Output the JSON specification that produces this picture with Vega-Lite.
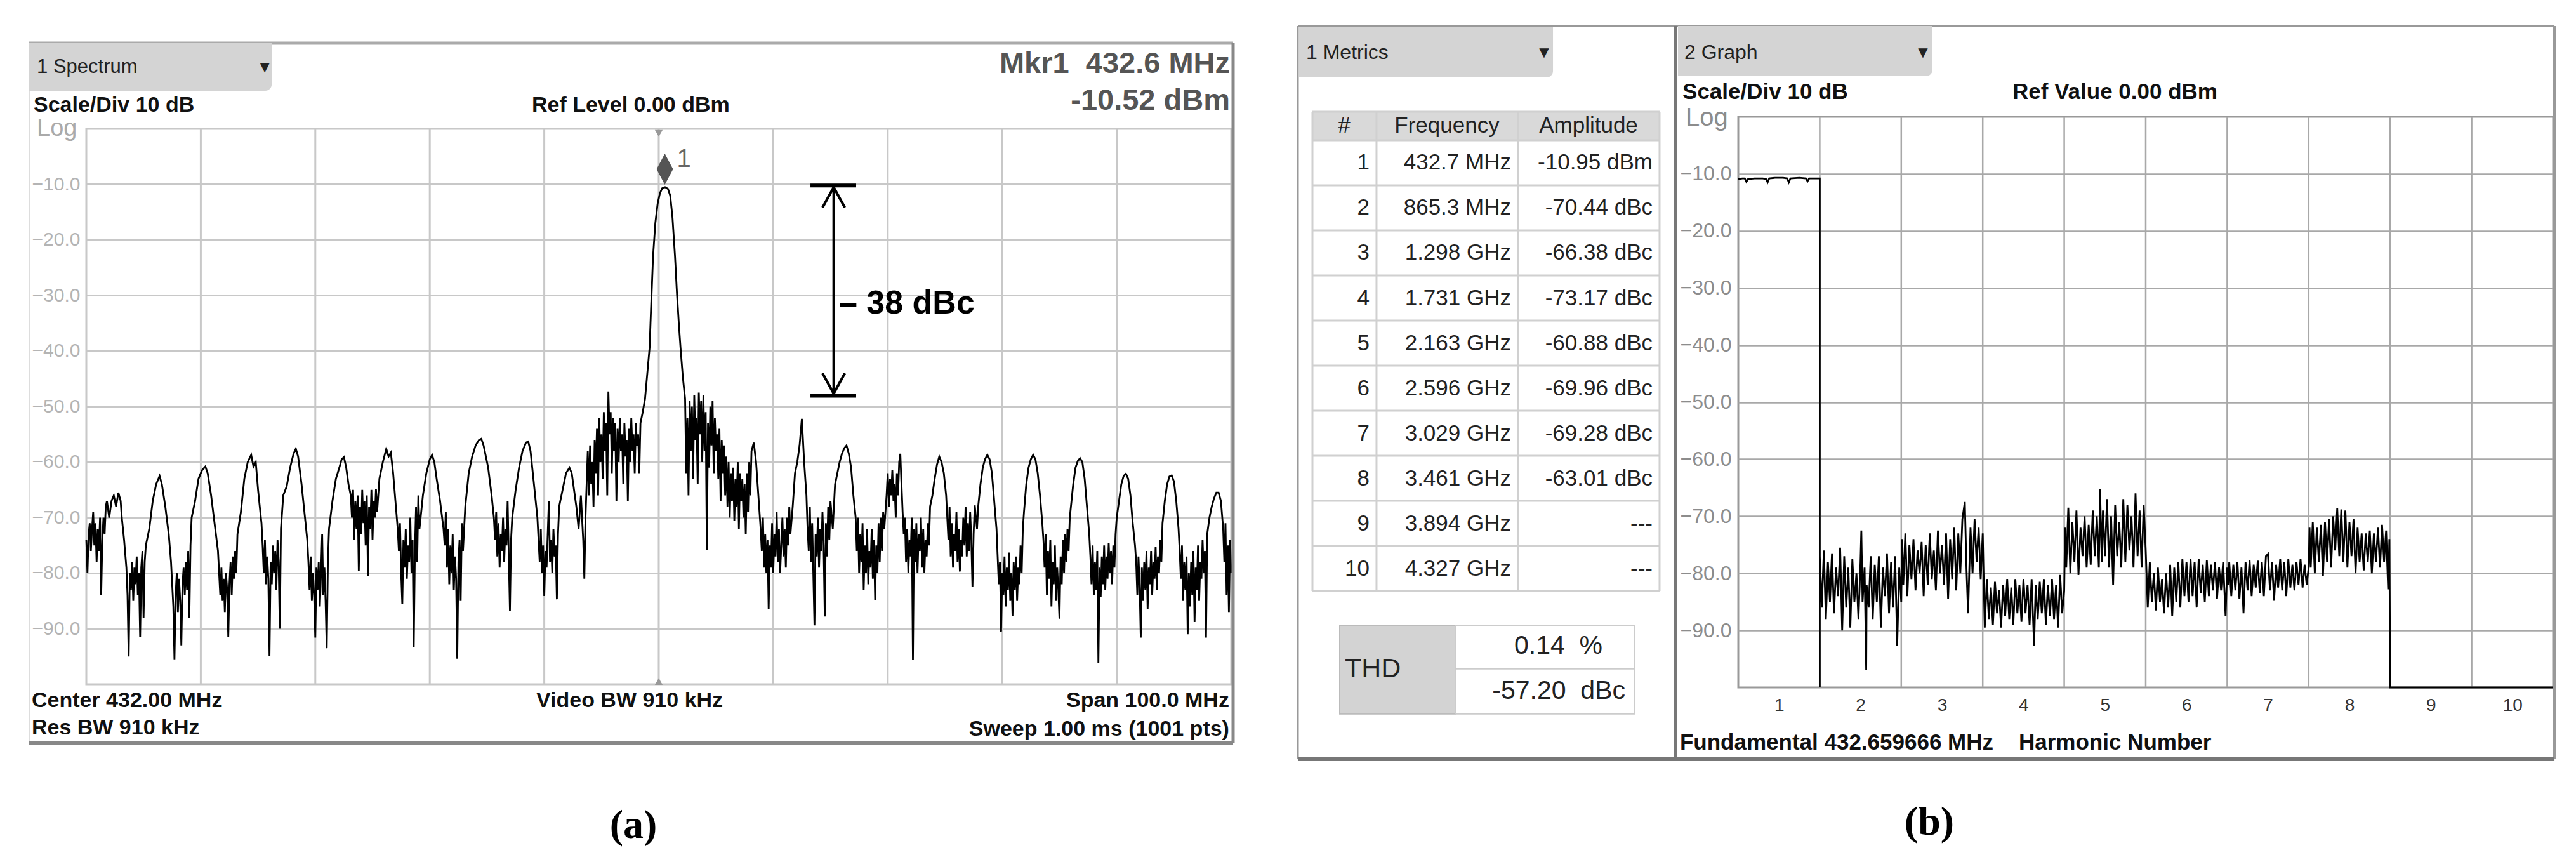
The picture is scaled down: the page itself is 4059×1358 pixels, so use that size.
{
"$schema":"https://vega.github.io/schema/vega-lite/v6.json",
"background":"white",
"padding":{"left":42,"top":36,"right":20,"bottom":20},
"spacing":107,
"bounds":"flush",
"config":{"font":"Liberation Sans","view":{"stroke":null},"axis":{"title":null},"text":{"color":"#111"}},
"data":{"values":[{}]},
"datasets":{
"gridA":[{"g":392},{"g":402},{"g":412},{"g":422},{"g":432},{"g":442},{"g":452},{"g":462},{"g":472}],
"gridG":[{"g":1.5},{"g":2.5},{"g":3.5},{"g":4.5},{"g":5.5},{"g":6.5},{"g":7.5},{"g":8.5},{"g":9.5}],
"metrics":[
{"n":1,"freq":"432.7 MHz","amp":"-10.95 dBm"},
{"n":2,"freq":"865.3 MHz","amp":"-70.44 dBc"},
{"n":3,"freq":"1.298 GHz","amp":"-66.38 dBc"},
{"n":4,"freq":"1.731 GHz","amp":"-73.17 dBc"},
{"n":5,"freq":"2.163 GHz","amp":"-60.88 dBc"},
{"n":6,"freq":"2.596 GHz","amp":"-69.96 dBc"},
{"n":7,"freq":"3.029 GHz","amp":"-69.28 dBc"},
{"n":8,"freq":"3.461 GHz","amp":"-63.01 dBc"},
{"n":9,"freq":"3.894 GHz","amp":"---"},
{"n":10,"freq":"4.327 GHz","amp":"---"}],
"spec":[
{"f":382.0,"a":-74},{"f":382.1,"a":-80},{"f":382.2,"a":-73},{"f":382.3,"a":-71},{"f":382.4,"a":-76},{"f":382.5,"a":-72},{"f":382.6,"a":-69},{"f":382.7,"a":-75},{"f":382.8,"a":-71},{"f":382.9,"a":-78},
{"f":383.0,"a":-72},{"f":383.1,"a":-76},{"f":383.2,"a":-70},{"f":383.3,"a":-84},{"f":383.4,"a":-74},{"f":383.5,"a":-70},{"f":383.6,"a":-73},{"f":383.7,"a":-68},{"f":383.8,"a":-67},{"f":384.0,"a":-70},
{"f":384.2,"a":-67},{"f":384.4,"a":-66},{"f":384.6,"a":-68},{"f":384.8,"a":-65.5},{"f":385.0,"a":-67},{"f":385.1,"a":-70},{"f":385.3,"a":-74},{"f":385.5,"a":-79},{"f":385.6,"a":-84},{"f":385.7,"a":-95},
{"f":385.8,"a":-80},{"f":385.9,"a":-83},{"f":386.0,"a":-78},{"f":386.1,"a":-85},{"f":386.2,"a":-79},{"f":386.3,"a":-82},{"f":386.4,"a":-77},{"f":386.5,"a":-84},{"f":386.6,"a":-80},{"f":386.7,"a":-91.5},
{"f":386.8,"a":-79},{"f":386.9,"a":-76},{"f":387.0,"a":-88},{"f":387.1,"a":-78},{"f":387.2,"a":-75},{"f":387.5,"a":-72},{"f":387.8,"a":-67},{"f":388.1,"a":-64},{"f":388.4,"a":-62.5},{"f":388.6,"a":-64},
{"f":388.9,"a":-68},{"f":389.2,"a":-73},{"f":389.4,"a":-78},{"f":389.5,"a":-82},{"f":389.6,"a":-86},{"f":389.7,"a":-95.5},{"f":389.8,"a":-84},{"f":389.9,"a":-80},{"f":390.0,"a":-87},{"f":390.1,"a":-81},
{"f":390.2,"a":-85},{"f":390.3,"a":-93},{"f":390.4,"a":-82},{"f":390.5,"a":-79},{"f":390.6,"a":-84},{"f":390.7,"a":-78},{"f":390.8,"a":-83},{"f":390.9,"a":-76},{"f":391.0,"a":-88},{"f":391.1,"a":-75},
{"f":391.2,"a":-70},{"f":391.5,"a":-67},{"f":391.8,"a":-63},{"f":392.1,"a":-61.5},{"f":392.4,"a":-60.8},{"f":392.6,"a":-62},{"f":392.9,"a":-66},{"f":393.2,"a":-71},{"f":393.5,"a":-76},{"f":393.6,"a":-80},
{"f":393.7,"a":-84},{"f":393.8,"a":-79},{"f":393.9,"a":-85},{"f":394.0,"a":-81},{"f":394.1,"a":-87},{"f":394.2,"a":-80},{"f":394.3,"a":-83},{"f":394.4,"a":-91.5},{"f":394.5,"a":-82},{"f":394.6,"a":-78},
{"f":394.7,"a":-84},{"f":394.8,"a":-77},{"f":394.9,"a":-81},{"f":395.0,"a":-76},{"f":395.1,"a":-80},{"f":395.2,"a":-73},{"f":395.5,"a":-69},{"f":395.8,"a":-63},{"f":396.1,"a":-60},{"f":396.4,"a":-58.7},
{"f":396.6,"a":-60.8},{"f":396.8,"a":-60},{"f":397.0,"a":-65},{"f":397.3,"a":-71},{"f":397.4,"a":-75},{"f":397.5,"a":-80},{"f":397.6,"a":-74},{"f":397.7,"a":-82},{"f":397.8,"a":-77},{"f":397.9,"a":-81},
{"f":398.0,"a":-94.9},{"f":398.1,"a":-78},{"f":398.2,"a":-82},{"f":398.3,"a":-75},{"f":398.4,"a":-80},{"f":398.5,"a":-76},{"f":398.6,"a":-83},{"f":398.7,"a":-74},{"f":398.8,"a":-78},{"f":398.9,"a":-90},
{"f":399.0,"a":-72},{"f":399.2,"a":-66},{"f":399.5,"a":-64.4},{"f":399.8,"a":-61},{"f":400.1,"a":-58.5},{"f":400.3,"a":-57.6},{"f":400.5,"a":-59},{"f":400.8,"a":-64},{"f":401.1,"a":-70},{"f":401.3,"a":-74},
{"f":401.4,"a":-78},{"f":401.5,"a":-83},{"f":401.6,"a":-77},{"f":401.7,"a":-85},{"f":401.8,"a":-80},{"f":401.9,"a":-84},{"f":402.0,"a":-91.6},{"f":402.1,"a":-79},{"f":402.2,"a":-83},{"f":402.3,"a":-78},
{"f":402.4,"a":-86},{"f":402.5,"a":-80},{"f":402.6,"a":-73},{"f":402.7,"a":-84},{"f":402.8,"a":-79},{"f":402.9,"a":-85},{"f":403.0,"a":-93.5},{"f":403.1,"a":-78},{"f":403.2,"a":-72},{"f":403.5,"a":-67},
{"f":403.8,"a":-63},{"f":404.1,"a":-61},{"f":404.3,"a":-59.5},{"f":404.5,"a":-59.1},{"f":404.7,"a":-61},{"f":404.9,"a":-64},{"f":405.1,"a":-66},{"f":405.2,"a":-70},{"f":405.3,"a":-65},{"f":405.4,"a":-74},
{"f":405.5,"a":-67},{"f":405.6,"a":-72},{"f":405.7,"a":-66},{"f":405.8,"a":-79.6},{"f":405.9,"a":-68},{"f":406.0,"a":-73},{"f":406.1,"a":-65},{"f":406.2,"a":-71},{"f":406.3,"a":-67},{"f":406.4,"a":-75},
{"f":406.5,"a":-66},{"f":406.6,"a":-80.5},{"f":406.7,"a":-68},{"f":406.8,"a":-72},{"f":406.9,"a":-65},{"f":407.0,"a":-74},{"f":407.1,"a":-67},{"f":407.2,"a":-70},{"f":407.3,"a":-64.9},{"f":407.4,"a":-69},
{"f":407.6,"a":-63},{"f":407.9,"a":-60},{"f":408.2,"a":-57.6},{"f":408.4,"a":-59},{"f":408.6,"a":-58.3},{"f":408.8,"a":-62},{"f":409.0,"a":-67},{"f":409.2,"a":-72},{"f":409.3,"a":-76},{"f":409.4,"a":-71},
{"f":409.5,"a":-80},{"f":409.6,"a":-85.6},{"f":409.7,"a":-74},{"f":409.8,"a":-79},{"f":409.9,"a":-72},{"f":410.0,"a":-81},{"f":410.1,"a":-75},{"f":410.2,"a":-78},{"f":410.3,"a":-70},{"f":410.4,"a":-80},
{"f":410.5,"a":-74},{"f":410.6,"a":-93.3},{"f":410.7,"a":-76},{"f":410.8,"a":-68},{"f":410.9,"a":-78},{"f":411.0,"a":-66},{"f":411.1,"a":-72},{"f":411.4,"a":-66},{"f":411.7,"a":-62},{"f":412.0,"a":-59.5},
{"f":412.2,"a":-58.7},{"f":412.4,"a":-60},{"f":412.6,"a":-63},{"f":412.9,"a":-67},{"f":413.2,"a":-72},{"f":413.3,"a":-75},{"f":413.4,"a":-69},{"f":413.5,"a":-79},{"f":413.6,"a":-72},{"f":413.7,"a":-82},
{"f":413.8,"a":-75},{"f":413.9,"a":-80},{"f":414.0,"a":-73},{"f":414.1,"a":-83},{"f":414.2,"a":-77},{"f":414.3,"a":-81},{"f":414.4,"a":-95.4},{"f":414.5,"a":-78},{"f":414.6,"a":-74},{"f":414.7,"a":-85},
{"f":414.8,"a":-71},{"f":414.9,"a":-76},{"f":415.1,"a":-68},{"f":415.4,"a":-62},{"f":415.7,"a":-59},{"f":416.0,"a":-57},{"f":416.3,"a":-56},{"f":416.5,"a":-55.8},{"f":416.7,"a":-57},{"f":416.9,"a":-59},
{"f":417.1,"a":-61},{"f":417.4,"a":-66},{"f":417.6,"a":-70},{"f":417.7,"a":-74},{"f":417.8,"a":-69},{"f":417.9,"a":-77},{"f":418.0,"a":-71},{"f":418.1,"a":-79},{"f":418.2,"a":-73},{"f":418.3,"a":-76},
{"f":418.4,"a":-70},{"f":418.5,"a":-78},{"f":418.6,"a":-72},{"f":418.7,"a":-75},{"f":418.8,"a":-67},{"f":418.9,"a":-77},{"f":419.0,"a":-86.8},{"f":419.1,"a":-74},{"f":419.2,"a":-70},{"f":419.5,"a":-65},
{"f":419.8,"a":-61},{"f":420.1,"a":-58},{"f":420.4,"a":-56.5},{"f":420.6,"a":-56.3},{"f":420.8,"a":-58},{"f":421.0,"a":-62},{"f":421.2,"a":-66},{"f":421.4,"a":-70},{"f":421.5,"a":-74},{"f":421.6,"a":-78},
{"f":421.7,"a":-72},{"f":421.8,"a":-80},{"f":421.9,"a":-75},{"f":422.0,"a":-84.1},{"f":422.1,"a":-76},{"f":422.2,"a":-79},{"f":422.3,"a":-73},{"f":422.4,"a":-67},{"f":422.5,"a":-78},{"f":422.6,"a":-74},
{"f":422.7,"a":-80},{"f":422.8,"a":-72},{"f":422.9,"a":-77},{"f":423.0,"a":-75},{"f":423.1,"a":-84.7},{"f":423.2,"a":-73},{"f":423.3,"a":-68},{"f":423.6,"a":-65},{"f":423.9,"a":-62},{"f":424.2,"a":-61},
{"f":424.4,"a":-62},{"f":424.6,"a":-65},{"f":424.8,"a":-68},{"f":425.0,"a":-72},{"f":425.2,"a":-66},{"f":425.4,"a":-74},{"f":425.5,"a":-81},{"f":425.6,"a":-70},{"f":425.7,"a":-64},{"f":425.8,"a":-58},
{"f":425.9,"a":-66},{"f":426.0,"a":-57},{"f":426.1,"a":-64},{"f":426.2,"a":-60},{"f":426.3,"a":-68},{"f":426.4,"a":-56},{"f":426.5,"a":-62},{"f":426.6,"a":-54},{"f":426.7,"a":-66},{"f":426.8,"a":-52},
{"f":426.9,"a":-60},{"f":427.0,"a":-55},{"f":427.1,"a":-63},{"f":427.2,"a":-51},{"f":427.3,"a":-58},{"f":427.4,"a":-53},{"f":427.5,"a":-66},{"f":427.6,"a":-47.3},{"f":427.7,"a":-55},{"f":427.8,"a":-51},
{"f":427.9,"a":-62},{"f":428.0,"a":-52},{"f":428.1,"a":-58},{"f":428.2,"a":-53},{"f":428.3,"a":-67},{"f":428.4,"a":-54},{"f":428.5,"a":-60},{"f":428.6,"a":-52},{"f":428.7,"a":-58},{"f":428.8,"a":-55},
{"f":428.9,"a":-64},{"f":429.0,"a":-53},{"f":429.1,"a":-59},{"f":429.2,"a":-56},{"f":429.3,"a":-67},{"f":429.4,"a":-54},{"f":429.5,"a":-60},{"f":429.6,"a":-52},{"f":429.7,"a":-58},{"f":429.8,"a":-55},
{"f":429.9,"a":-62},{"f":430.0,"a":-53},{"f":430.1,"a":-57},{"f":430.2,"a":-55},{"f":430.3,"a":-62},{"f":430.4,"a":-53},{"f":430.6,"a":-51},
{"f":430.8,"a":-48.6},{"f":431.0,"a":-44},{"f":431.2,"a":-39.4},{"f":431.35,"a":-31},{"f":431.5,"a":-23},{"f":431.7,"a":-17},{"f":431.9,"a":-13.5},{"f":432.1,"a":-11.6},{"f":432.3,"a":-10.7},{"f":432.55,"a":-10.5},
{"f":432.8,"a":-10.8},{"f":433.0,"a":-12},{"f":433.2,"a":-16},{"f":433.42,"a":-23},{"f":433.6,"a":-30},{"f":433.75,"a":-35},{"f":433.9,"a":-39.4},{"f":434.1,"a":-44.6},{"f":434.3,"a":-48.6},
{"f":434.4,"a":-62},{"f":434.5,"a":-52},{"f":434.6,"a":-66},{"f":434.7,"a":-49},{"f":434.8,"a":-58},{"f":434.9,"a":-50},{"f":435.0,"a":-63},{"f":435.1,"a":-48},{"f":435.2,"a":-56},{"f":435.3,"a":-52},
{"f":435.4,"a":-64},{"f":435.5,"a":-47.5},{"f":435.6,"a":-55},{"f":435.7,"a":-49},{"f":435.8,"a":-60},{"f":435.9,"a":-48},{"f":436.0,"a":-58},{"f":436.1,"a":-51},{"f":436.2,"a":-75.8},{"f":436.3,"a":-53},
{"f":436.4,"a":-61},{"f":436.5,"a":-50},{"f":436.6,"a":-57},{"f":436.7,"a":-49},{"f":436.8,"a":-62},{"f":436.9,"a":-52},{"f":437.0,"a":-58},{"f":437.1,"a":-55},{"f":437.2,"a":-63},{"f":437.3,"a":-54},
{"f":437.4,"a":-67},{"f":437.5,"a":-56},{"f":437.6,"a":-62},{"f":437.7,"a":-57},{"f":437.8,"a":-66},{"f":437.9,"a":-59},{"f":438.0,"a":-68},{"f":438.1,"a":-60},{"f":438.2,"a":-70},{"f":438.3,"a":-62},
{"f":438.4,"a":-67},{"f":438.5,"a":-61},{"f":438.6,"a":-70.6},{"f":438.7,"a":-63},{"f":438.8,"a":-68},{"f":438.9,"a":-60},{"f":439.0,"a":-72},{"f":439.1,"a":-62},{"f":439.2,"a":-67},{"f":439.3,"a":-63},
{"f":439.4,"a":-70},{"f":439.5,"a":-64},{"f":439.6,"a":-73},{"f":439.7,"a":-62},{"f":439.8,"a":-69},{"f":439.9,"a":-60},{"f":440.0,"a":-66},{"f":440.1,"a":-58},{"f":440.3,"a":-56.5},{"f":440.5,"a":-60},
{"f":440.7,"a":-66},{"f":440.9,"a":-72},{"f":441.0,"a":-76},{"f":441.1,"a":-70},{"f":441.2,"a":-79},{"f":441.3,"a":-73},{"f":441.4,"a":-80},{"f":441.5,"a":-74},{"f":441.6,"a":-86.5},{"f":441.7,"a":-75},
{"f":441.8,"a":-79},{"f":441.9,"a":-71},{"f":442.0,"a":-80},{"f":442.1,"a":-73},{"f":442.2,"a":-77},{"f":442.3,"a":-69},{"f":442.4,"a":-78},{"f":442.5,"a":-72},{"f":442.6,"a":-80},{"f":442.7,"a":-75},
{"f":442.8,"a":-70},{"f":442.9,"a":-77},{"f":443.0,"a":-72},{"f":443.1,"a":-79},{"f":443.2,"a":-70},{"f":443.3,"a":-75},{"f":443.4,"a":-68},{"f":443.5,"a":-73},{"f":443.7,"a":-68},{"f":443.9,"a":-62},
{"f":444.1,"a":-60},{"f":444.3,"a":-57},{"f":444.5,"a":-52.2},{"f":444.7,"a":-60},{"f":444.9,"a":-66},{"f":445.0,"a":-72},{"f":445.1,"a":-76},{"f":445.2,"a":-68},{"f":445.3,"a":-78},{"f":445.4,"a":-71},
{"f":445.5,"a":-80},{"f":445.6,"a":-89.4},{"f":445.7,"a":-73},{"f":445.8,"a":-77},{"f":445.9,"a":-70},{"f":446.0,"a":-79},{"f":446.1,"a":-72},{"f":446.2,"a":-76},{"f":446.3,"a":-69},{"f":446.4,"a":-75},
{"f":446.5,"a":-87.8},{"f":446.6,"a":-71},{"f":446.7,"a":-77},{"f":446.8,"a":-68},{"f":446.9,"a":-74},{"f":447.0,"a":-67},{"f":447.2,"a":-72},{"f":447.4,"a":-64},{"f":447.6,"a":-62},{"f":447.8,"a":-60},
{"f":448.0,"a":-58.5},{"f":448.2,"a":-57.5},{"f":448.4,"a":-57},{"f":448.6,"a":-58.5},{"f":448.8,"a":-61},{"f":449.0,"a":-66},{"f":449.2,"a":-70},{"f":449.3,"a":-76},{"f":449.4,"a":-70},{"f":449.5,"a":-80},
{"f":449.6,"a":-73},{"f":449.7,"a":-78},{"f":449.8,"a":-71},{"f":449.9,"a":-83},{"f":450.0,"a":-75},{"f":450.1,"a":-80},{"f":450.2,"a":-72},{"f":450.3,"a":-82},{"f":450.4,"a":-76},{"f":450.5,"a":-79},
{"f":450.6,"a":-72},{"f":450.7,"a":-81},{"f":450.8,"a":-74},{"f":450.9,"a":-84.8},{"f":451.0,"a":-75},{"f":451.1,"a":-80},{"f":451.2,"a":-71},{"f":451.3,"a":-78},{"f":451.4,"a":-70},{"f":451.5,"a":-76},
{"f":451.6,"a":-69},{"f":451.7,"a":-72},{"f":451.9,"a":-66},{"f":452.0,"a":-62},{"f":452.1,"a":-68},{"f":452.2,"a":-63},{"f":452.3,"a":-66},{"f":452.4,"a":-61.5},{"f":452.5,"a":-67},{"f":452.6,"a":-64},
{"f":452.7,"a":-70},{"f":452.8,"a":-62},{"f":452.9,"a":-66},{"f":453.0,"a":-60},{"f":453.1,"a":-58.5},{"f":453.2,"a":-64},{"f":453.3,"a":-69},{"f":453.4,"a":-73},{"f":453.5,"a":-70},{"f":453.6,"a":-78},
{"f":453.7,"a":-72},{"f":453.8,"a":-80},{"f":453.9,"a":-74},{"f":454.0,"a":-77},{"f":454.1,"a":-70},{"f":454.2,"a":-95.6},{"f":454.3,"a":-72},{"f":454.4,"a":-78},{"f":454.5,"a":-71},{"f":454.6,"a":-80},
{"f":454.7,"a":-73},{"f":454.8,"a":-76},{"f":454.9,"a":-70},{"f":455.0,"a":-79},{"f":455.1,"a":-72},{"f":455.2,"a":-80},{"f":455.3,"a":-74},{"f":455.4,"a":-77},{"f":455.5,"a":-71},{"f":455.6,"a":-75},
{"f":455.7,"a":-68},{"f":455.9,"a":-66},{"f":456.1,"a":-63},{"f":456.3,"a":-60.5},{"f":456.5,"a":-59},{"f":456.7,"a":-60},{"f":456.9,"a":-62},{"f":457.1,"a":-66},{"f":457.2,"a":-70},{"f":457.3,"a":-74},
{"f":457.4,"a":-68},{"f":457.5,"a":-77},{"f":457.6,"a":-71},{"f":457.7,"a":-79},{"f":457.8,"a":-73},{"f":457.9,"a":-76},{"f":458.0,"a":-69},{"f":458.1,"a":-78},{"f":458.2,"a":-72},{"f":458.3,"a":-79.7},
{"f":458.4,"a":-74},{"f":458.5,"a":-77},{"f":458.6,"a":-70},{"f":458.7,"a":-75},{"f":458.8,"a":-68},{"f":458.9,"a":-77},{"f":459.0,"a":-71},{"f":459.1,"a":-76},{"f":459.2,"a":-69},{"f":459.3,"a":-74},
{"f":459.4,"a":-82.5},{"f":459.5,"a":-73},{"f":459.6,"a":-67.8},{"f":459.8,"a":-72},{"f":459.9,"a":-68},{"f":460.1,"a":-64},{"f":460.3,"a":-61},{"f":460.5,"a":-59.5},{"f":460.7,"a":-58.7},{"f":460.9,"a":-59.5},
{"f":461.1,"a":-62},{"f":461.3,"a":-67},{"f":461.5,"a":-72},{"f":461.6,"a":-77},{"f":461.7,"a":-82},{"f":461.8,"a":-78},{"f":461.9,"a":-90.5},{"f":462.0,"a":-80},{"f":462.1,"a":-84},{"f":462.2,"a":-77},
{"f":462.3,"a":-86},{"f":462.4,"a":-79},{"f":462.5,"a":-83},{"f":462.6,"a":-76.3},{"f":462.7,"a":-85},{"f":462.8,"a":-80},{"f":462.9,"a":-87.7},{"f":463.0,"a":-78},{"f":463.1,"a":-83},{"f":463.2,"a":-77},
{"f":463.3,"a":-85},{"f":463.4,"a":-79},{"f":463.5,"a":-82},{"f":463.6,"a":-75},{"f":463.7,"a":-80},{"f":463.8,"a":-72},{"f":463.9,"a":-69},{"f":464.1,"a":-64},{"f":464.3,"a":-61},{"f":464.5,"a":-59.5},
{"f":464.7,"a":-58.7},{"f":464.9,"a":-59.5},{"f":465.1,"a":-62},{"f":465.3,"a":-66},{"f":465.5,"a":-71},{"f":465.6,"a":-74},{"f":465.7,"a":-79},{"f":465.8,"a":-73},{"f":465.9,"a":-84},{"f":466.0,"a":-76},
{"f":466.1,"a":-81},{"f":466.2,"a":-74},{"f":466.3,"a":-86},{"f":466.4,"a":-78},{"f":466.5,"a":-82},{"f":466.6,"a":-75},{"f":466.7,"a":-85},{"f":466.8,"a":-79},{"f":466.9,"a":-83},{"f":467.0,"a":-88.2},
{"f":467.1,"a":-77},{"f":467.2,"a":-82},{"f":467.3,"a":-74},{"f":467.4,"a":-80},{"f":467.5,"a":-73},{"f":467.6,"a":-78},{"f":467.7,"a":-72},{"f":467.8,"a":-76},{"f":467.9,"a":-70},{"f":468.0,"a":-68},
{"f":468.2,"a":-64},{"f":468.4,"a":-61},{"f":468.6,"a":-59.8},{"f":468.8,"a":-59.3},{"f":469.0,"a":-60},{"f":469.2,"a":-63},{"f":469.4,"a":-68},{"f":469.6,"a":-73},{"f":469.7,"a":-77},{"f":469.8,"a":-82},
{"f":469.9,"a":-75},{"f":470.0,"a":-84},{"f":470.1,"a":-78},{"f":470.2,"a":-83},{"f":470.3,"a":-76},{"f":470.4,"a":-96.2},{"f":470.5,"a":-79},{"f":470.6,"a":-84.3},{"f":470.7,"a":-77},{"f":470.8,"a":-82},
{"f":470.9,"a":-75},{"f":471.0,"a":-83},{"f":471.1,"a":-77},{"f":471.2,"a":-81},{"f":471.3,"a":-74.6},{"f":471.4,"a":-80},{"f":471.5,"a":-76},{"f":471.6,"a":-82},{"f":471.7,"a":-75},{"f":471.8,"a":-79},
{"f":471.9,"a":-73},{"f":472.0,"a":-70},{"f":472.2,"a":-67},{"f":472.4,"a":-64},{"f":472.6,"a":-62.5},{"f":472.8,"a":-62.1},{"f":473.0,"a":-63},{"f":473.2,"a":-66},{"f":473.4,"a":-71},{"f":473.6,"a":-75},
{"f":473.7,"a":-78},{"f":473.8,"a":-84},{"f":473.9,"a":-77},{"f":474.0,"a":-82},{"f":474.1,"a":-91.6},{"f":474.2,"a":-79},{"f":474.3,"a":-85},{"f":474.4,"a":-78},{"f":474.5,"a":-83},{"f":474.6,"a":-76},
{"f":474.7,"a":-86.5},{"f":474.8,"a":-79},{"f":474.9,"a":-82},{"f":475.0,"a":-76},{"f":475.1,"a":-84},{"f":475.2,"a":-78},{"f":475.3,"a":-81},{"f":475.4,"a":-75.2},{"f":475.5,"a":-83},{"f":475.6,"a":-77},
{"f":475.7,"a":-80},{"f":475.8,"a":-74},{"f":475.9,"a":-78},{"f":476.0,"a":-71},{"f":476.2,"a":-67},{"f":476.4,"a":-64},{"f":476.6,"a":-62.6},{"f":476.8,"a":-62.4},{"f":477.0,"a":-63.5},{"f":477.2,"a":-67},
{"f":477.4,"a":-72},{"f":477.5,"a":-76},{"f":477.6,"a":-81},{"f":477.7,"a":-75},{"f":477.8,"a":-85},{"f":477.9,"a":-78},{"f":478.0,"a":-83},{"f":478.1,"a":-77},{"f":478.2,"a":-91},{"f":478.3,"a":-80},
{"f":478.4,"a":-86},{"f":478.5,"a":-78},{"f":478.6,"a":-84},{"f":478.7,"a":-76},{"f":478.8,"a":-88.8},{"f":478.9,"a":-79},{"f":479.0,"a":-83},{"f":479.1,"a":-75},{"f":479.2,"a":-85},{"f":479.3,"a":-78},
{"f":479.4,"a":-81},{"f":479.5,"a":-74},{"f":479.6,"a":-80},{"f":479.7,"a":-76},{"f":479.8,"a":-91.6},{"f":479.9,"a":-73},{"f":480.1,"a":-70},{"f":480.3,"a":-68},{"f":480.5,"a":-66.5},{"f":480.7,"a":-65.5},
{"f":480.9,"a":-65.5},{"f":481.1,"a":-67},{"f":481.3,"a":-72},{"f":481.4,"a":-78},{"f":481.5,"a":-71},{"f":481.6,"a":-84},{"f":481.7,"a":-75},{"f":481.8,"a":-87},{"f":481.9,"a":-74},{"f":482.0,"a":-80}],
"harm":[
{"h":0.5,"v":-10.9},{"h":0.55,"v":-10.8},{"h":0.58,"v":-10.8},{"h":0.6,"v":-11.4},{"h":0.62,"v":-10.9},{"h":0.7,"v":-10.8},{"h":0.8,"v":-10.8},{"h":0.84,"v":-10.9},{"h":0.86,"v":-11.5},{"h":0.88,"v":-10.8},
{"h":0.95,"v":-10.7},{"h":1.05,"v":-10.7},{"h":1.1,"v":-10.8},{"h":1.12,"v":-11.5},{"h":1.14,"v":-10.8},{"h":1.25,"v":-10.7},{"h":1.33,"v":-10.8},{"h":1.35,"v":-11.3},{"h":1.37,"v":-10.8},{"h":1.45,"v":-10.8},
{"h":1.5,"v":-10.8},{"h":1.5,"v":-100},
{"h":1.5,"v":-77},{"h":1.525,"v":-86},{"h":1.55,"v":-76},{"h":1.575,"v":-88},{"h":1.6,"v":-78},{"h":1.625,"v":-85},{"h":1.65,"v":-76.5},{"h":1.675,"v":-87},{"h":1.7,"v":-79},{"h":1.725,"v":-84},
{"h":1.75,"v":-75.5},{"h":1.775,"v":-90},{"h":1.8,"v":-77},{"h":1.825,"v":-86},{"h":1.85,"v":-79},{"h":1.875,"v":-89.5},{"h":1.9,"v":-77.5},{"h":1.925,"v":-85},{"h":1.95,"v":-80},{"h":1.975,"v":-88},
{"h":2.0,"v":-78},{"h":2.01,"v":-72.5},{"h":2.025,"v":-85},{"h":2.05,"v":-79},{"h":2.07,"v":-97},{"h":2.075,"v":-82},{"h":2.1,"v":-86},{"h":2.125,"v":-77},{"h":2.15,"v":-88},{"h":2.175,"v":-78.5},
{"h":2.2,"v":-85},{"h":2.225,"v":-77},{"h":2.25,"v":-89.5},{"h":2.275,"v":-79},{"h":2.3,"v":-84},{"h":2.325,"v":-76.5},{"h":2.35,"v":-87},{"h":2.375,"v":-78},{"h":2.4,"v":-86},{"h":2.425,"v":-77},
{"h":2.45,"v":-92.7},{"h":2.475,"v":-79},{"h":2.5,"v":-85},
{"h":2.51,"v":-74},{"h":2.525,"v":-82},{"h":2.55,"v":-73},{"h":2.575,"v":-84},{"h":2.6,"v":-75},{"h":2.625,"v":-81},{"h":2.65,"v":-74},{"h":2.675,"v":-83},{"h":2.7,"v":-76},{"h":2.725,"v":-80},
{"h":2.75,"v":-74.5},{"h":2.775,"v":-84},{"h":2.8,"v":-75},{"h":2.825,"v":-82},{"h":2.85,"v":-73},{"h":2.875,"v":-81},{"h":2.9,"v":-76},{"h":2.925,"v":-83},{"h":2.95,"v":-72.5},{"h":2.975,"v":-80},
{"h":3.0,"v":-75},{"h":3.025,"v":-82},{"h":3.05,"v":-73},{"h":3.075,"v":-84.5},{"h":3.1,"v":-74},{"h":3.125,"v":-81},{"h":3.15,"v":-72},{"h":3.175,"v":-83},{"h":3.2,"v":-73},{"h":3.225,"v":-80},
{"h":3.25,"v":-70.5},{"h":3.28,"v":-67.5},{"h":3.3,"v":-79},{"h":3.32,"v":-87},{"h":3.35,"v":-72},{"h":3.375,"v":-80},{"h":3.4,"v":-70.5},{"h":3.425,"v":-78},{"h":3.45,"v":-72},{"h":3.475,"v":-81},
{"h":3.5,"v":-73},
{"h":3.51,"v":-80},{"h":3.525,"v":-89.5},{"h":3.55,"v":-81},{"h":3.575,"v":-88},{"h":3.6,"v":-82.5},{"h":3.625,"v":-89},{"h":3.65,"v":-81.5},{"h":3.675,"v":-87},{"h":3.7,"v":-83},{"h":3.725,"v":-89.5},
{"h":3.75,"v":-82},{"h":3.775,"v":-87.5},{"h":3.8,"v":-81},{"h":3.825,"v":-88},{"h":3.85,"v":-82.5},{"h":3.875,"v":-89},{"h":3.9,"v":-81},{"h":3.925,"v":-87},{"h":3.95,"v":-82},{"h":3.975,"v":-88.5},
{"h":4.0,"v":-81},{"h":4.025,"v":-87},{"h":4.05,"v":-82},{"h":4.075,"v":-89},{"h":4.1,"v":-81},{"h":4.13,"v":-92.7},{"h":4.15,"v":-82},{"h":4.175,"v":-88},{"h":4.2,"v":-81.5},{"h":4.225,"v":-87},
{"h":4.25,"v":-81},{"h":4.275,"v":-89},{"h":4.3,"v":-82},{"h":4.325,"v":-87.5},{"h":4.35,"v":-81},{"h":4.375,"v":-88},{"h":4.4,"v":-82},{"h":4.425,"v":-89.5},{"h":4.45,"v":-80.3},{"h":4.475,"v":-87},
{"h":4.5,"v":-83},
{"h":4.51,"v":-72},{"h":4.525,"v":-79},{"h":4.55,"v":-68.5},{"h":4.575,"v":-80},{"h":4.6,"v":-71},{"h":4.625,"v":-78},{"h":4.65,"v":-69},{"h":4.675,"v":-80.3},{"h":4.7,"v":-72},{"h":4.725,"v":-77},
{"h":4.75,"v":-70},{"h":4.775,"v":-79},{"h":4.8,"v":-71.5},{"h":4.825,"v":-78.5},{"h":4.85,"v":-69},{"h":4.875,"v":-77},{"h":4.9,"v":-70},{"h":4.925,"v":-79},{"h":4.94,"v":-65.2},{"h":4.96,"v":-78},
{"h":4.975,"v":-69},{"h":5.0,"v":-77},{"h":5.025,"v":-67},{"h":5.05,"v":-79},{"h":5.075,"v":-70},{"h":5.1,"v":-82},{"h":5.125,"v":-68},{"h":5.15,"v":-77},{"h":5.175,"v":-71},{"h":5.2,"v":-79},
{"h":5.225,"v":-67},{"h":5.25,"v":-78},{"h":5.275,"v":-68},{"h":5.3,"v":-76},{"h":5.325,"v":-70},{"h":5.35,"v":-79},{"h":5.375,"v":-66},{"h":5.4,"v":-77},{"h":5.425,"v":-69},{"h":5.45,"v":-79},
{"h":5.475,"v":-68},{"h":5.5,"v":-76},
{"h":5.51,"v":-80},{"h":5.525,"v":-86},{"h":5.55,"v":-78},{"h":5.575,"v":-85},{"h":5.6,"v":-80},{"h":5.625,"v":-86.5},{"h":5.65,"v":-79},{"h":5.675,"v":-85},{"h":5.7,"v":-81},{"h":5.725,"v":-87},
{"h":5.75,"v":-80},{"h":5.775,"v":-86},{"h":5.8,"v":-78.5},{"h":5.825,"v":-87.5},{"h":5.85,"v":-79},{"h":5.875,"v":-85},{"h":5.9,"v":-78},{"h":5.925,"v":-86},{"h":5.95,"v":-77.5},{"h":5.975,"v":-84},
{"h":6.0,"v":-78},{"h":6.025,"v":-85},{"h":6.05,"v":-77.5},{"h":6.075,"v":-84},{"h":6.1,"v":-78},{"h":6.125,"v":-86},{"h":6.15,"v":-77.5},{"h":6.175,"v":-83.5},{"h":6.2,"v":-78.5},{"h":6.225,"v":-85},
{"h":6.25,"v":-77.7},{"h":6.275,"v":-84},{"h":6.3,"v":-78.5},{"h":6.325,"v":-83},{"h":6.35,"v":-78},{"h":6.375,"v":-84.5},{"h":6.4,"v":-79},{"h":6.425,"v":-83},{"h":6.45,"v":-78},{"h":6.48,"v":-87.5},
{"h":6.5,"v":-79},
{"h":6.51,"v":-82},{"h":6.525,"v":-78},{"h":6.55,"v":-84},{"h":6.575,"v":-78.5},{"h":6.6,"v":-83},{"h":6.625,"v":-78},{"h":6.65,"v":-84.5},{"h":6.675,"v":-79},{"h":6.7,"v":-87},{"h":6.725,"v":-78},
{"h":6.75,"v":-83},{"h":6.775,"v":-77.7},{"h":6.8,"v":-84},{"h":6.825,"v":-78.5},{"h":6.85,"v":-82.5},{"h":6.875,"v":-77.8},{"h":6.9,"v":-83.5},{"h":6.925,"v":-78},{"h":6.95,"v":-84},{"h":6.975,"v":-77},
{"h":7.0,"v":-76.6},{"h":7.025,"v":-83},{"h":7.05,"v":-78},{"h":7.075,"v":-84.8},{"h":7.1,"v":-78.5},{"h":7.125,"v":-82.5},{"h":7.15,"v":-77.5},{"h":7.175,"v":-83},{"h":7.2,"v":-78},{"h":7.225,"v":-84},
{"h":7.25,"v":-77.5},{"h":7.275,"v":-82.5},{"h":7.3,"v":-78.5},{"h":7.325,"v":-83},{"h":7.35,"v":-78},{"h":7.375,"v":-82},{"h":7.4,"v":-77.5},{"h":7.425,"v":-82.5},{"h":7.45,"v":-78.5},{"h":7.475,"v":-82},
{"h":7.5,"v":-79},
{"h":7.51,"v":-72},{"h":7.525,"v":-79},{"h":7.55,"v":-71},{"h":7.575,"v":-80},{"h":7.6,"v":-72},{"h":7.625,"v":-78},{"h":7.65,"v":-71.5},{"h":7.675,"v":-80.5},{"h":7.7,"v":-71},{"h":7.725,"v":-78},
{"h":7.75,"v":-70.5},{"h":7.775,"v":-79},{"h":7.8,"v":-70},{"h":7.825,"v":-76},{"h":7.85,"v":-68.6},{"h":7.875,"v":-77},{"h":7.9,"v":-68.8},{"h":7.925,"v":-78},{"h":7.95,"v":-69},{"h":7.975,"v":-79},
{"h":8.0,"v":-71},{"h":8.025,"v":-77},{"h":8.05,"v":-70.5},{"h":8.075,"v":-80},{"h":8.1,"v":-72},{"h":8.125,"v":-78},{"h":8.15,"v":-73},{"h":8.175,"v":-79.5},{"h":8.2,"v":-73},{"h":8.225,"v":-78},
{"h":8.25,"v":-72.5},{"h":8.275,"v":-80},{"h":8.3,"v":-73},{"h":8.325,"v":-78},{"h":8.35,"v":-72},{"h":8.375,"v":-79},{"h":8.4,"v":-71.5},{"h":8.425,"v":-78},{"h":8.45,"v":-72.5},{"h":8.475,"v":-82.8},
{"h":8.49,"v":-74},{"h":8.5,"v":-100},{"h":10.5,"v":-100}]
},
"hconcat":[
{"width":1804,"height":894,"layer":[
 {"mark":{"type":"rect","filled":false,"stroke":"#c8c8c8","strokeWidth":3},
  "encoding":{
   "x":{"datum":382,"type":"quantitative","scale":{"domain":[382,482],"nice":false,"zero":false},"axis":null},
   "x2":{"datum":482},
   "y":{"datum":-100,"type":"quantitative","scale":{"domain":[-100,2.1714],"nice":false,"zero":false},
        "axis":{"values":[-90,-80,-70,-60,-50,-40,-30,-20,-10],"format":".1f","grid":true,"gridColor":"#c8c8c8","gridWidth":3,"domain":false,"ticks":false,"labelColor":"#b4b4b4","labelFontSize":30,"labelPadding":10,"title":null}},
   "y2":{"datum":0}}},
 {"data":{"name":"gridA"},"mark":{"type":"rule","color":"#c8c8c8","strokeWidth":3},
  "encoding":{"x":{"field":"g","type":"quantitative"},"y":{"datum":-100},"y2":{"datum":0}}},
 {"mark":{"type":"point","shape":"triangle-down","filled":true,"color":"#999","size":150,"opacity":1},
  "encoding":{"x":{"datum":432},"y":{"datum":-0.8}}},
 {"mark":{"type":"point","shape":"triangle-up","filled":true,"color":"#999","size":150,"opacity":1},
  "encoding":{"x":{"datum":432},"y":{"datum":-99.5}}},
 {"data":{"name":"spec"},"mark":{"type":"line","color":"#000","strokeWidth":2.8},
  "encoding":{"x":{"field":"f","type":"quantitative"},"y":{"field":"a","type":"quantitative"}}},
 {"mark":{"type":"point","shape":"M0,-1L0.53,0L0,1L-0.53,0Z","filled":true,"color":"#555","size":2401,"opacity":1},
  "encoding":{"x":{"datum":432.53},"y":{"datum":-7.26}}},
 {"mark":{"type":"text","align":"center","baseline":"middle","fontSize":40,"color":"#666"},
  "encoding":{"x":{"datum":434.2},"y":{"datum":-5.5},"text":{"value":"1"}}},
 {"mark":{"type":"rule","color":"#000","strokeWidth":4},
  "encoding":{"x":{"datum":447.28},"y":{"datum":-10.2},"y2":{"datum":-48.06}}},
 {"mark":{"type":"rule","color":"#000","strokeWidth":6},
  "encoding":{"x":{"datum":445.25},"x2":{"datum":449.24},"y":{"datum":-10.2}}},
 {"mark":{"type":"rule","color":"#000","strokeWidth":6},
  "encoding":{"x":{"datum":445.25},"x2":{"datum":449.24},"y":{"datum":-48.06}}},
 {"mark":{"type":"point","shape":"M-1.1,1L0,-1L1.1,1","filled":false,"color":"#000","strokeWidth":4,"size":1024,"opacity":1},
  "encoding":{"x":{"datum":447.28},"y":{"datum":-12.34}}},
 {"mark":{"type":"point","shape":"M-1.1,-1L0,1L1.1,-1","filled":false,"color":"#000","strokeWidth":4,"size":1024,"opacity":1},
  "encoding":{"x":{"datum":447.28},"y":{"datum":-45.83}}},
 {"mark":{"type":"text","align":"left","baseline":"middle","fontSize":52,"fontWeight":"bold","color":"#000"},
  "encoding":{"x":{"datum":447.74},"y":{"datum":-31.43},"text":{"value":"– 38 dBc"}}},
 {"mark":{"type":"rule","color":"#aaa","strokeWidth":5},
  "encoding":{"x":{"datum":377.011},"x2":{"datum":482.166},"y":{"datum":15.43}}},
 {"mark":{"type":"rule","color":"#ddd","strokeWidth":2},
  "encoding":{"x":{"datum":377.011},"y":{"datum":15.43},"y2":{"datum":-110.63}}},
 {"mark":{"type":"rule","color":"#888","strokeWidth":5},
  "encoding":{"x":{"datum":482.166},"y":{"datum":15.43},"y2":{"datum":-110.63}}},
 {"mark":{"type":"rule","color":"#888","strokeWidth":6},
  "encoding":{"x":{"datum":377.011},"x2":{"datum":482.166},"y":{"datum":-110.63}}},
 {"mark":{"type":"rect","color":"#d4d4d4","cornerRadiusBottomRight":10},
  "encoding":{"x":{"datum":377.011},"x2":{"datum":398.19},"y":{"datum":15.43},"y2":{"datum":6.857}}},
 {"mark":{"type":"text","align":"left","baseline":"middle","fontSize":31,"color":"#222"},
  "encoding":{"x":{"datum":377.68},"y":{"datum":11.09},"text":{"value":"1 Spectrum"}}},
 {"mark":{"type":"text","align":"center","baseline":"middle","fontSize":20,"font":"DejaVu Sans","color":"#222"},
  "encoding":{"x":{"datum":397.58},"y":{"datum":11.09},"text":{"value":"▼"}}},
 {"mark":{"type":"text","align":"left","baseline":"middle","fontSize":34,"fontWeight":"bold"},
  "encoding":{"x":{"datum":377.40},"y":{"datum":4.23},"text":{"value":"Scale/Div 10 dB"}}},
 {"mark":{"type":"text","align":"left","baseline":"middle","fontSize":34,"fontWeight":"bold"},
  "encoding":{"x":{"datum":420.91},"y":{"datum":4.23},"text":{"value":"Ref Level 0.00 dBm"}}},
 {"mark":{"type":"text","align":"right","baseline":"middle","fontSize":47,"fontWeight":"bold","color":"#555"},
  "encoding":{"x":{"datum":481.89},"y":{"datum":11.66},"text":{"value":"Mkr1\u00a0\u00a0432.6 MHz"}}},
 {"mark":{"type":"text","align":"right","baseline":"middle","fontSize":47,"fontWeight":"bold","color":"#555"},
  "encoding":{"x":{"datum":481.89},"y":{"datum":5.03},"text":{"value":"-10.52 dBm"}}},
 {"mark":{"type":"text","align":"left","baseline":"middle","fontSize":38,"color":"#aaa"},
  "encoding":{"x":{"datum":377.68},"y":{"datum":0},"text":{"value":"Log"}}},
 {"mark":{"type":"text","align":"left","baseline":"middle","fontSize":34,"fontWeight":"bold"},
  "encoding":{"x":{"datum":377.23},"y":{"datum":-102.97},"text":{"value":"Center 432.00 MHz"}}},
 {"mark":{"type":"text","align":"left","baseline":"middle","fontSize":34,"fontWeight":"bold"},
  "encoding":{"x":{"datum":377.23},"y":{"datum":-107.89},"text":{"value":"Res BW 910 kHz"}}},
 {"mark":{"type":"text","align":"left","baseline":"middle","fontSize":34,"fontWeight":"bold"},
  "encoding":{"x":{"datum":421.30},"y":{"datum":-102.97},"text":{"value":"Video BW 910 kHz"}}},
 {"mark":{"type":"text","align":"right","baseline":"middle","fontSize":34,"fontWeight":"bold"},
  "encoding":{"x":{"datum":481.83},"y":{"datum":-102.97},"text":{"value":"Span 100.0 MHz"}}},
 {"mark":{"type":"text","align":"right","baseline":"middle","fontSize":34,"fontWeight":"bold"},
  "encoding":{"x":{"datum":481.83},"y":{"datum":-108.11},"text":{"value":"Sweep 1.00 ms (1001 pts)"}}},
 {"mark":{"type":"text","align":"center","baseline":"middle","fontSize":64,"font":"Liberation Serif","fontWeight":"bold","color":"#000"},
  "encoding":{"x":{"datum":429.78},"y":{"datum":-125.49},"text":{"value":"(a)"}}}
]},
{"width":585,"height":941,"layer":[
 {"mark":{"type":"rect","color":"#d9d9d9"},
  "encoding":{
   "x":{"datum":3.59,"type":"quantitative","scale":{"domain":[0,100],"nice":false,"zero":false},"axis":null},
   "x2":{"datum":97.09},
   "y":{"datum":-0.134,"type":"quantitative","scale":{"domain":[-0.021,13.232],"nice":false,"zero":false,"reverse":true},"axis":null},
   "y2":{"datum":0.5}}},
 {"mark":{"type":"rule","color":"#d0d0d0","strokeWidth":3},
  "encoding":{"x":{"datum":3.59},"x2":{"datum":97.09},"y":{"datum":-0.134}}},
 {"mark":{"type":"rule","color":"#d0d0d0","strokeWidth":3},
  "encoding":{"x":{"datum":3.59},"x2":{"datum":97.09},"y":{"datum":0.5}}},
 {"data":{"name":"metrics"},"mark":{"type":"rule","color":"#d0d0d0","strokeWidth":3,"yOffset":35.5},
  "encoding":{"x":{"datum":3.59},"x2":{"datum":97.09},"y":{"field":"n","type":"quantitative"}}},
 {"mark":{"type":"rule","color":"#d0d0d0","strokeWidth":3},
  "encoding":{"x":{"datum":3.59},"y":{"datum":-0.134},"y2":{"datum":10.5}}},
 {"mark":{"type":"rule","color":"#d0d0d0","strokeWidth":3},
  "encoding":{"x":{"datum":20.85},"y":{"datum":-0.134},"y2":{"datum":10.5}}},
 {"mark":{"type":"rule","color":"#d0d0d0","strokeWidth":3},
  "encoding":{"x":{"datum":58.97},"y":{"datum":-0.134},"y2":{"datum":10.5}}},
 {"mark":{"type":"rule","color":"#d0d0d0","strokeWidth":3},
  "encoding":{"x":{"datum":97.09},"y":{"datum":-0.134},"y2":{"datum":10.5}}},
 {"mark":{"type":"text","align":"center","baseline":"middle","fontSize":35,"color":"#222"},
  "encoding":{"x":{"datum":12.14},"y":{"datum":0.176},"text":{"value":"#"}}},
 {"mark":{"type":"text","align":"center","baseline":"middle","fontSize":35,"color":"#222"},
  "encoding":{"x":{"datum":39.83},"y":{"datum":0.176},"text":{"value":"Frequency"}}},
 {"mark":{"type":"text","align":"center","baseline":"middle","fontSize":35,"color":"#222"},
  "encoding":{"x":{"datum":77.95},"y":{"datum":0.176},"text":{"value":"Amplitude"}}},
 {"data":{"name":"metrics"},"mark":{"type":"text","align":"right","baseline":"middle","fontSize":35,"color":"#222"},
  "encoding":{"x":{"datum":18.97},"y":{"field":"n","type":"quantitative"},"text":{"field":"n","type":"nominal"}}},
 {"data":{"name":"metrics"},"mark":{"type":"text","align":"right","baseline":"middle","fontSize":35,"color":"#222"},
  "encoding":{"x":{"datum":57.09},"y":{"field":"n","type":"quantitative"},"text":{"field":"freq","type":"nominal"}}},
 {"data":{"name":"metrics"},"mark":{"type":"text","align":"right","baseline":"middle","fontSize":35,"color":"#222"},
  "encoding":{"x":{"datum":95.21},"y":{"field":"n","type":"quantitative"},"text":{"field":"amp","type":"nominal"}}},
 {"mark":{"type":"rect","color":"#d3d3d3","stroke":"#bbb","strokeWidth":2},
  "encoding":{"x":{"datum":10.94},"x2":{"datum":42.22},"y":{"datum":11.26},"y2":{"datum":13.23}}},
 {"mark":{"type":"rect","color":"#fff","stroke":"#ccc","strokeWidth":2},
  "encoding":{"x":{"datum":42.22},"x2":{"datum":90.26},"y":{"datum":11.26},"y2":{"datum":13.23}}},
 {"mark":{"type":"rule","color":"#ccc","strokeWidth":2},
  "encoding":{"x":{"datum":42.22},"x2":{"datum":90.26},"y":{"datum":12.23}}},
 {"mark":{"type":"text","align":"left","baseline":"middle","fontSize":43,"color":"#222"},
  "encoding":{"x":{"datum":12.31},"y":{"datum":12.23},"text":{"value":"THD"}}},
 {"mark":{"type":"text","align":"right","baseline":"middle","fontSize":41,"color":"#222"},
  "encoding":{"x":{"datum":81.71},"y":{"datum":11.73},"text":{"value":"0.14\u00a0\u00a0%"}}},
 {"mark":{"type":"text","align":"right","baseline":"middle","fontSize":41,"color":"#222"},
  "encoding":{"x":{"datum":87.86},"y":{"datum":12.73},"text":{"value":"-57.20\u00a0\u00a0dBc"}}},
 {"mark":{"type":"rect","color":"#d4d4d4","cornerRadiusBottomRight":10},
  "encoding":{"x":{"datum":0},"x2":{"datum":68.38},"y":{"datum":-2.035},"y2":{"datum":-0.894}}},
 {"mark":{"type":"text","align":"left","baseline":"middle","fontSize":32,"color":"#222"},
  "encoding":{"x":{"datum":1.88},"y":{"datum":-1.444},"text":{"value":"1 Metrics"}}},
 {"mark":{"type":"text","align":"center","baseline":"middle","fontSize":20,"font":"DejaVu Sans","color":"#222"},
  "encoding":{"x":{"datum":65.98},"y":{"datum":-1.444},"text":{"value":"▼"}}}
]},
{"width":1284,"height":899,"view":{"stroke":"#999","strokeWidth":3},"layer":[
 {"data":{"name":"gridG"},"mark":{"type":"rule","color":"#a8a8a8","strokeWidth":2.5},
  "encoding":{
   "x":{"field":"g","type":"quantitative","scale":{"domain":[0.5,10.5],"nice":false,"zero":false},
        "axis":{"values":[1,2,3,4,5,6,7,8,9,10],"format":"d","grid":false,"domain":false,"ticks":false,"labelColor":"#333","labelFontSize":28,"labelPadding":14,"title":null}},
   "y":{"datum":-100,"type":"quantitative","scale":{"domain":[-100,0],"nice":false,"zero":false},
        "axis":{"values":[-90,-80,-70,-60,-50,-40,-30,-20,-10],"format":".1f","grid":true,"gridColor":"#a8a8a8","gridWidth":2.5,"domain":false,"ticks":false,"labelColor":"#8c8c8c","labelFontSize":32,"labelPadding":11,"title":null}},
   "y2":{"datum":0}}},
 {"data":{"name":"harm"},"mark":{"type":"line","color":"#000","strokeWidth":2.8},
  "encoding":{"x":{"field":"h","type":"quantitative"},"y":{"field":"v","type":"quantitative"},"order":{"value":null}}},
 {"mark":{"type":"rule","color":"#999","strokeWidth":4},
  "encoding":{"x":{"datum":-4.905},"x2":{"datum":10.516},"y":{"datum":15.907}}},
 {"mark":{"type":"rule","color":"#999","strokeWidth":3},
  "encoding":{"x":{"datum":-4.905},"y":{"datum":15.907},"y2":{"datum":-112.57}}},
 {"mark":{"type":"rule","color":"#999","strokeWidth":5},
  "encoding":{"x":{"datum":10.516},"y":{"datum":15.907},"y2":{"datum":-112.57}}},
 {"mark":{"type":"rule","color":"#777","strokeWidth":6},
  "encoding":{"x":{"datum":-4.905},"x2":{"datum":10.516},"y":{"datum":-112.57}}},
 {"mark":{"type":"rule","color":"#777","strokeWidth":5},
  "encoding":{"x":{"datum":-0.271},"y":{"datum":15.907},"y2":{"datum":-112.57}}},
 {"mark":{"type":"rect","color":"#d4d4d4","cornerRadiusBottomRight":10},
  "encoding":{"x":{"datum":-0.24},"x2":{"datum":2.883},"y":{"datum":15.907},"y2":{"datum":7.119}}},
 {"mark":{"type":"text","align":"left","baseline":"middle","fontSize":32,"color":"#222"},
  "encoding":{"x":{"datum":-0.162},"y":{"datum":11.23},"text":{"value":"2 Graph"}}},
 {"mark":{"type":"text","align":"center","baseline":"middle","fontSize":20,"font":"DejaVu Sans","color":"#222"},
  "encoding":{"x":{"datum":2.766},"y":{"datum":11.23},"text":{"value":"▼"}}},
 {"mark":{"type":"text","align":"left","baseline":"middle","fontSize":35,"fontWeight":"bold"},
  "encoding":{"x":{"datum":-0.185},"y":{"datum":4.34},"text":{"value":"Scale/Div 10 dB"}}},
 {"mark":{"type":"text","align":"left","baseline":"middle","fontSize":35,"fontWeight":"bold"},
  "encoding":{"x":{"datum":3.865},"y":{"datum":4.34},"text":{"value":"Ref Value 0.00 dBm"}}},
 {"mark":{"type":"text","align":"left","baseline":"middle","fontSize":40,"color":"#8c8c8c"},
  "encoding":{"x":{"datum":-0.146},"y":{"datum":-0.22},"text":{"value":"Log"}}},
 {"mark":{"type":"text","align":"left","baseline":"middle","fontSize":35,"fontWeight":"bold"},
  "encoding":{"x":{"datum":-0.217},"y":{"datum":-109.68},"text":{"value":"Fundamental 432.659666 MHz"}}},
 {"mark":{"type":"text","align":"left","baseline":"middle","fontSize":35,"fontWeight":"bold"},
  "encoding":{"x":{"datum":3.942},"y":{"datum":-109.68},"text":{"value":"Harmonic Number"}}},
 {"mark":{"type":"text","align":"center","baseline":"middle","fontSize":64,"font":"Liberation Serif","fontWeight":"bold","color":"#000"},
  "encoding":{"x":{"datum":2.844},"y":{"datum":-123.72},"text":{"value":"(b)"}}}
]}
]
}
